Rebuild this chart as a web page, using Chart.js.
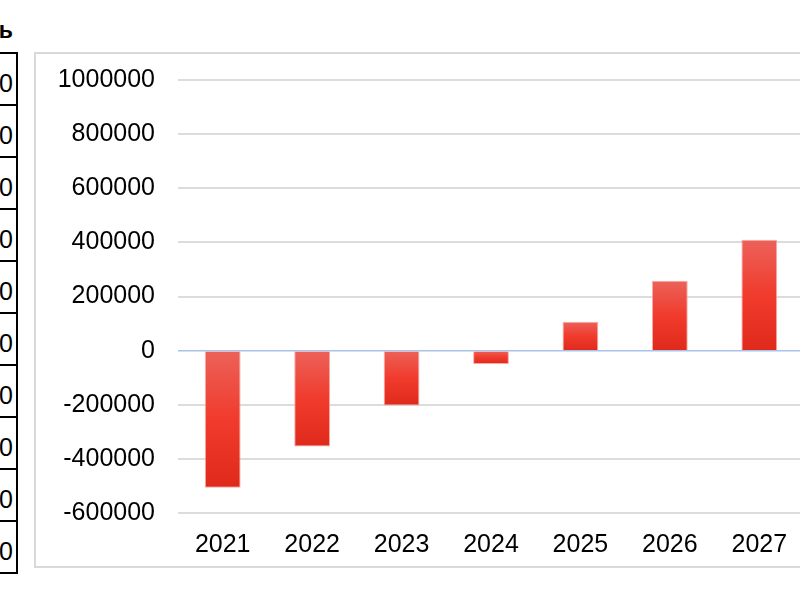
<!DOCTYPE html>
<html>
<head>
<meta charset="utf-8">
<script src="https://cdn.jsdelivr.net/npm/chart.js@4.4.0/dist/chart.umd.min.js"></script>
<style>
  html, body { margin: 0; padding: 0; width: 800px; height: 600px; overflow: hidden; background: #fff; font-family: "Liberation Sans", Arial, sans-serif; }
  #tableEdge { position: absolute; left: -200px; top: 52px; width: 216px; border-top: 2px solid #000; border-right: 2px solid #000; }
  #tableEdge .row { height: 50px; border-bottom: 2px solid #000; text-align: right; padding-right: 3px; font-size: 25px; line-height: 58px; color: #000; overflow: hidden; }
  #head { position: absolute; left: -200px; top: 17px; width: 213px; text-align: right; font-weight: bold; font-size: 23px; color: #000; }
  #box { position: absolute; left: 34px; top: 52px; width: 820px; height: 512px; border: 2px solid #d9d9d9; }
  #wrap { position: absolute; left: 0; top: 0; width: 800px; height: 512px; }
</style>
</head>
<body>
<div id="head">ь</div>
<div id="tableEdge"></div>
<div id="box"><div id="wrap"><canvas id="chart"></canvas></div></div>
<script>
// données du graphique
const years = ['2021', '2022', '2023', '2024', '2025', '2026', '2027'];
const values = [-507000, -354000, -203000, -49000, 107000, 258000, 410000];
const yMin = -600000;
const yMax = 1000000;
const yStep = 200000;
const tableCells = ['0', '0', '0', '0', '0', '0', '0', '0', '0', '0'];

// bord du tableau à gauche
const tableEl = document.getElementById('tableEdge');
tableCells.forEach(function(t) {
    const d = document.createElement('div');
    d.className = 'row';
    d.textContent = t;
    tableEl.appendChild(d);
});

// dégradé rouge pour chaque barre
function barGradient(context) {
    const chart = context.chart;
    const y = chart.scales && chart.scales.y;
    if (!chart.chartArea || !y || context.raw === undefined) {
        return '#ee3a2c';
    }
    const v = context.raw;
    const top = y.getPixelForValue(Math.max(v, 0));
    const bottom = y.getPixelForValue(Math.min(v, 0));
    if (bottom - top < 1) return '#ee3a2c';
    const g = chart.ctx.createLinearGradient(0, top, 0, bottom);
    g.addColorStop(0, '#ec6259');
    g.addColorStop(0.5, '#f03b2d');
    g.addColorStop(1, '#de291b');
    return g;
}

Chart.defaults.font.family = '"Liberation Sans", Arial, sans-serif';
Chart.defaults.color = '#000';

new Chart(document.getElementById('chart').getContext('2d'), {
    type: 'bar',
    data: {
        labels: years,
        datasets: [{
            data: values,
            backgroundColor: barGradient,
            borderColor: 'rgba(248, 160, 152, 0.9)',
            borderWidth: 1,
            categoryPercentage: 1,
            barPercentage: 0.4
        }]
    },
    options: {
        responsive: true,
        maintainAspectRatio: false,
        animation: false,
        layout: { padding: { top: 26, right: 32, bottom: 0, left: 0 } },
        plugins: {
            legend: { display: false },
            tooltip: { enabled: false }
        },
        scales: {
            x: {
                grid: { display: false, drawTicks: false },
                border: { display: false },
                ticks: { font: { size: 25 }, padding: 17, maxRotation: 0 },
                afterFit: function(scale) { scale.height = 53; }
            },
            y: {
                min: yMin,
                max: yMax,
                ticks: {
                    stepSize: yStep,
                    font: { size: 25 },
                    padding: 23,
                    callback: function(v) { return String(v); }
                },
                grid: {
                    drawTicks: false,
                    color: function(ctx) { return ctx.tick && ctx.tick.value === 0 ? '#a9c2ea' : '#dcdcdc'; },
                    lineWidth: function(ctx) { return ctx.tick && ctx.tick.value === 0 ? 1.5 : 2; }
                },
                border: { display: false },
                afterFit: function(scale) {
                    scale.width = 142;
                    scale.paddingTop = 0;
                    scale.paddingBottom = 0;
                }
            }
        }
    }
});
</script>
</body>
</html>
